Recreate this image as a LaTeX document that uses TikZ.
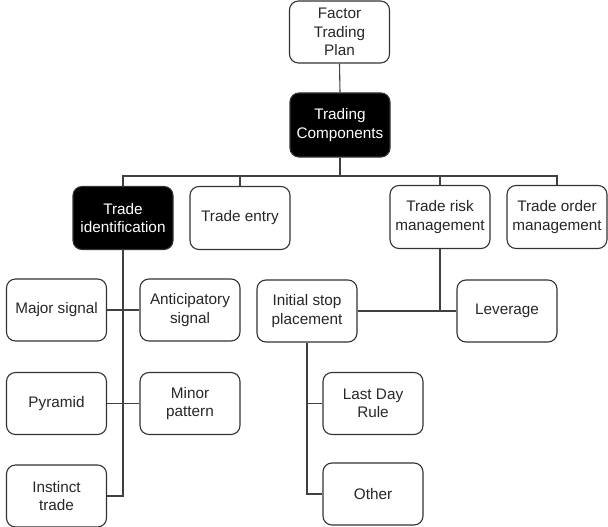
\documentclass[tikz,border=0pt]{standalone}
\usepackage{fontspec}
\setmainfont{Liberation Sans}
\begin{document}
\begin{tikzpicture}[x=1pt,y=-1pt,
  box/.style={draw=black!80, line width=1.1pt, rounded corners=9pt, minimum width=100pt, minimum height=62pt, align=center, inner sep=1pt, text=black!85, font=\fontsize{15.3}{18.5}\selectfont},
  dark/.style={box, fill=black, text=white},
  wire/.style={draw=black!75, line width=1.1pt}]
\useasboundingbox (0,0) rectangle (608,527);
\node[box] (plan) at (339.5,32) {Factor\\Trading\\Plan};
\node[dark, minimum height=64pt] (comp) at (340,125) {Trading\\Components};
\coordinate (bus) at (340,176);
\node[dark, minimum height=63pt] (tid) at (123,218) {Trade\\identification};
\node[box, minimum height=63pt] (tentry) at (240,218) {Trade entry};
\node[box, minimum height=63pt] (trisk) at (440,217) {Trade risk\\management};
\node[box, minimum height=63pt] (torder) at (557,217) {Trade order\\management};
\node[box] (major) at (56.5,310) {Major signal};
\node[box] (antic) at (190,310) {Anticipatory\\signal};
\node[box] (istop) at (307,311) {Initial stop\\placement};
\node[box] (lev) at (507,311) {Leverage};
\node[box] (pyr) at (56.5,403.5) {Pyramid};
\node[box] (minor) at (190,403.5) {Minor\\pattern};
\node[box] (ldr) at (373,403.5) {Last Day\\Rule};
\node[box] (instinct) at (56.5,496) {Instinct\\trade};
\node[box] (other) at (373,494) {Other};
\draw[wire] (plan.south) -- (comp.north);
\draw[wire] (comp.south) -- (bus);
\draw[wire] (tid.north) |- (bus);
\draw[wire] (tentry.north) |- (bus);
\draw[wire] (trisk.north) |- (bus);
\draw[wire] (torder.north) |- (bus);
\draw[wire] (tid.south) |- (instinct.east);
\draw[wire] (major.east) -- (antic.west);
\draw[wire] (pyr.east) -- (minor.west);
\draw[wire] (istop.east) -- (lev.west);
\draw[wire] (trisk.south) -- (trisk.south |- istop.east);
\draw[wire] (istop.south) |- (ldr.west);
\draw[wire] (istop.south) |- (other.west);
\end{tikzpicture}
\end{document}
